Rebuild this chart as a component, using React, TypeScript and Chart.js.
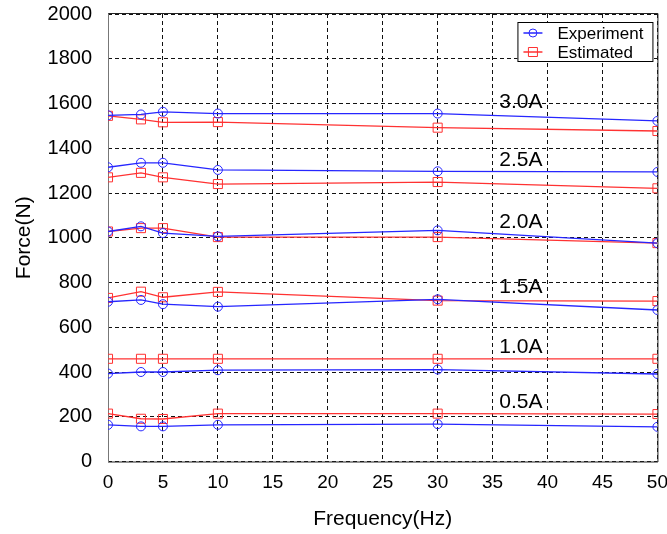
import React, { useEffect, useRef } from 'react';
import { Chart, registerables } from 'chart.js';

Chart.register(...registerables);

const frequencies = [0, 3, 5, 10, 30, 50];
const currentLabels = ['0.5A', '1.0A', '1.5A', '2.0A', '2.5A', '3.0A'];

const experiment05 = [164, 157, 157, 164, 167, 155];
const estimated05 = [214, 191, 190, 214, 214, 212];
const experiment10 = [393, 400, 400, 408, 411, 391];
const estimated10 = [459, 459, 459, 459, 459, 459];
const experiment15 = [714, 722, 703, 692, 725, 677];
const estimated15 = [731, 759, 734, 758, 719, 717];
const experiment20 = [1028, 1051, 1021, 1006, 1033, 976];
const estimated20 = [1028, 1043, 1043, 1003, 1003, 976];
const experiment25 = [1315, 1335, 1335, 1303, 1297, 1294];
const estimated25 = [1270, 1290, 1270, 1240, 1249, 1221];
const experiment30 = [1547, 1551, 1563, 1555, 1555, 1522];
const estimated30 = [1545, 1529, 1516, 1517, 1492, 1477];

const labelPositionX = 35.6;
const labelPositionY = [264, 509, 778, 1069, 1346, 1608];

const legendLabels = ['Experiment', 'Estimated'];

const BLUE = '#2626ff';
const RED = '#ff3232';

const experimentSeries = [experiment05, experiment10, experiment15, experiment20, experiment25, experiment30];
const estimatedSeries = [estimated05, estimated10, estimated15, estimated20, estimated25, estimated30];

function toPoints(values: number[]) {
  return values.map((v, i) => ({ x: frequencies[i], y: v }));
}

const FONT = '"Liberation Sans", Arial, sans-serif';

const overlayPlugin = {
  id: 'overlay',
  beforeDatasetsDraw(chart: any) {
    const { ctx, chartArea: a } = chart;
    ctx.save();
    ctx.lineWidth = 1;
    ctx.strokeStyle = '#222';
    ctx.beginPath();
    ctx.moveTo(a.left, a.bottom + 0.5);
    ctx.lineTo(a.right + 0.5, a.bottom + 0.5);
    ctx.lineTo(a.right + 0.5, a.top - 0.5);
    ctx.lineTo(a.left, a.top - 0.5);
    ctx.stroke();
    ctx.strokeStyle = '#777';
    ctx.beginPath();
    ctx.moveTo(a.left + 0.5, a.top - 0.5);
    ctx.lineTo(a.left + 0.5, a.bottom + 0.5);
    ctx.stroke();
    ctx.restore();
  },
  afterDatasetsDraw(chart: any) {
    const { ctx, scales } = chart;
    ctx.save();
    ctx.font = `21px ${FONT}`;
    ctx.fillStyle = '#000';
    ctx.textAlign = 'left';
    ctx.textBaseline = 'middle';
    currentLabels.forEach((t, i) => {
      ctx.fillText(t, scales.x.getPixelForValue(labelPositionX), scales.y.getPixelForValue(labelPositionY[i]));
    });
    ctx.restore();
  },
  afterDraw(chart: any) {
    const { ctx, chartArea: a } = chart;
    ctx.save();
    const boxRight = a.right - 5;
    const boxLeft = boxRight - 135;
    const boxTop = a.top + 8;
    const boxH = 39;
    ctx.fillStyle = '#fff';
    ctx.fillRect(boxLeft, boxTop, boxRight - boxLeft, boxH);
    ctx.strokeStyle = '#000';
    ctx.lineWidth = 1;
    ctx.strokeRect(boxLeft + 0.5, boxTop + 0.5, boxRight - boxLeft, boxH);
    ctx.font = `17px ${FONT}`;
    ctx.textBaseline = 'middle';
    ctx.textAlign = 'left';
    const colors = [BLUE, RED];
    legendLabels.forEach((t, i) => {
      const cy = boxTop + 11 + i * 19;
      const x0 = boxLeft + 6;
      const x1 = boxLeft + 25;
      const cx = (x0 + x1) / 2;
      ctx.strokeStyle = colors[i];
      ctx.lineWidth = 1.5;
      ctx.beginPath();
      ctx.moveTo(x0, cy);
      ctx.lineTo(x1, cy);
      ctx.stroke();
      ctx.lineWidth = 1;
      ctx.beginPath();
      if (i === 0) {
        ctx.arc(cx, cy, 4, 0, Math.PI * 2);
      } else {
        ctx.rect(cx - 4.5, cy - 4.5, 9, 9);
      }
      ctx.stroke();
      ctx.fillStyle = '#000';
      ctx.fillText(t, boxLeft + 40, cy + 1);
    });
    ctx.restore();
  },
};

export default function App() {
  const canvasRef = useRef<HTMLCanvasElement>(null);

  useEffect(() => {
    const canvas = canvasRef.current;
    if (!canvas) return;
    const datasets: any[] = [];
    for (let i = 0; i < currentLabels.length; i++) {
      datasets.push({
        label: 'Experiment ' + currentLabels[i],
        data: toPoints(experimentSeries[i]),
        borderColor: BLUE,
        backgroundColor: 'transparent',
        borderWidth: 1.3,
        pointStyle: 'circle',
        pointRadius: 4.5,
        pointBorderWidth: 1,
        pointBorderColor: BLUE,
        pointBackgroundColor: 'transparent',
      });
      datasets.push({
        label: 'Estimated ' + currentLabels[i],
        data: toPoints(estimatedSeries[i]),
        borderColor: RED,
        backgroundColor: 'transparent',
        borderWidth: 1.3,
        pointStyle: 'rect',
        pointRadius: 6.4,
        pointBorderWidth: 1,
        pointBorderColor: RED,
        pointBackgroundColor: 'transparent',
      });
    }
    const chart = new Chart(canvas, {
      type: 'line',
      data: { datasets },
      options: {
        animation: false,
        responsive: false,
        maintainAspectRatio: false,
        layout: { padding: { left: 0, top: 0, right: 0, bottom: 0 } },
        elements: { line: { tension: 0 } },
        plugins: { legend: { display: false }, tooltip: { enabled: false } },
        scales: {
          x: {
            type: 'linear',
            min: 0,
            max: 50,
            ticks: { stepSize: 5, color: '#000', font: { family: FONT, size: 19 }, padding: 10, maxRotation: 0, callback: (v: any) => String(v) },
            grid: { color: '#111', drawTicks: false, lineWidth: 1 },
            border: { display: false, dash: [4, 3] },
            title: { display: true, text: 'Frequency(Hz)', color: '#000', font: { family: FONT, size: 21 }, padding: { top: 0, bottom: 2 } },
            afterFit: (s: any) => { s.height = 72.5; },
          },
          y: {
            type: 'linear',
            min: 0,
            max: 2000,
            ticks: { stepSize: 200, color: '#000', font: { family: FONT, size: 20 }, padding: 16, callback: (v: any) => String(v) },
            grid: { color: '#111', drawTicks: false, lineWidth: 1 },
            border: { display: false, dash: [4, 3] },
            title: { display: true, text: 'Force(N)', color: '#000', font: { family: FONT, size: 21 }, padding: { top: 12, bottom: 0 } },
            afterFit: (s: any) => { s.width = 108; },
          },
        },
      },
      plugins: [overlayPlugin],
    });
    return () => chart.destroy();
  }, []);

  return (
    <div style={{ position: 'absolute', left: 0, top: 0, width: 667, height: 534, overflow: 'hidden', background: '#fff' }}>
      <canvas ref={canvasRef} width={678} height={548} style={{ display: 'block', marginTop: -14 }} />
    </div>
  );
}
